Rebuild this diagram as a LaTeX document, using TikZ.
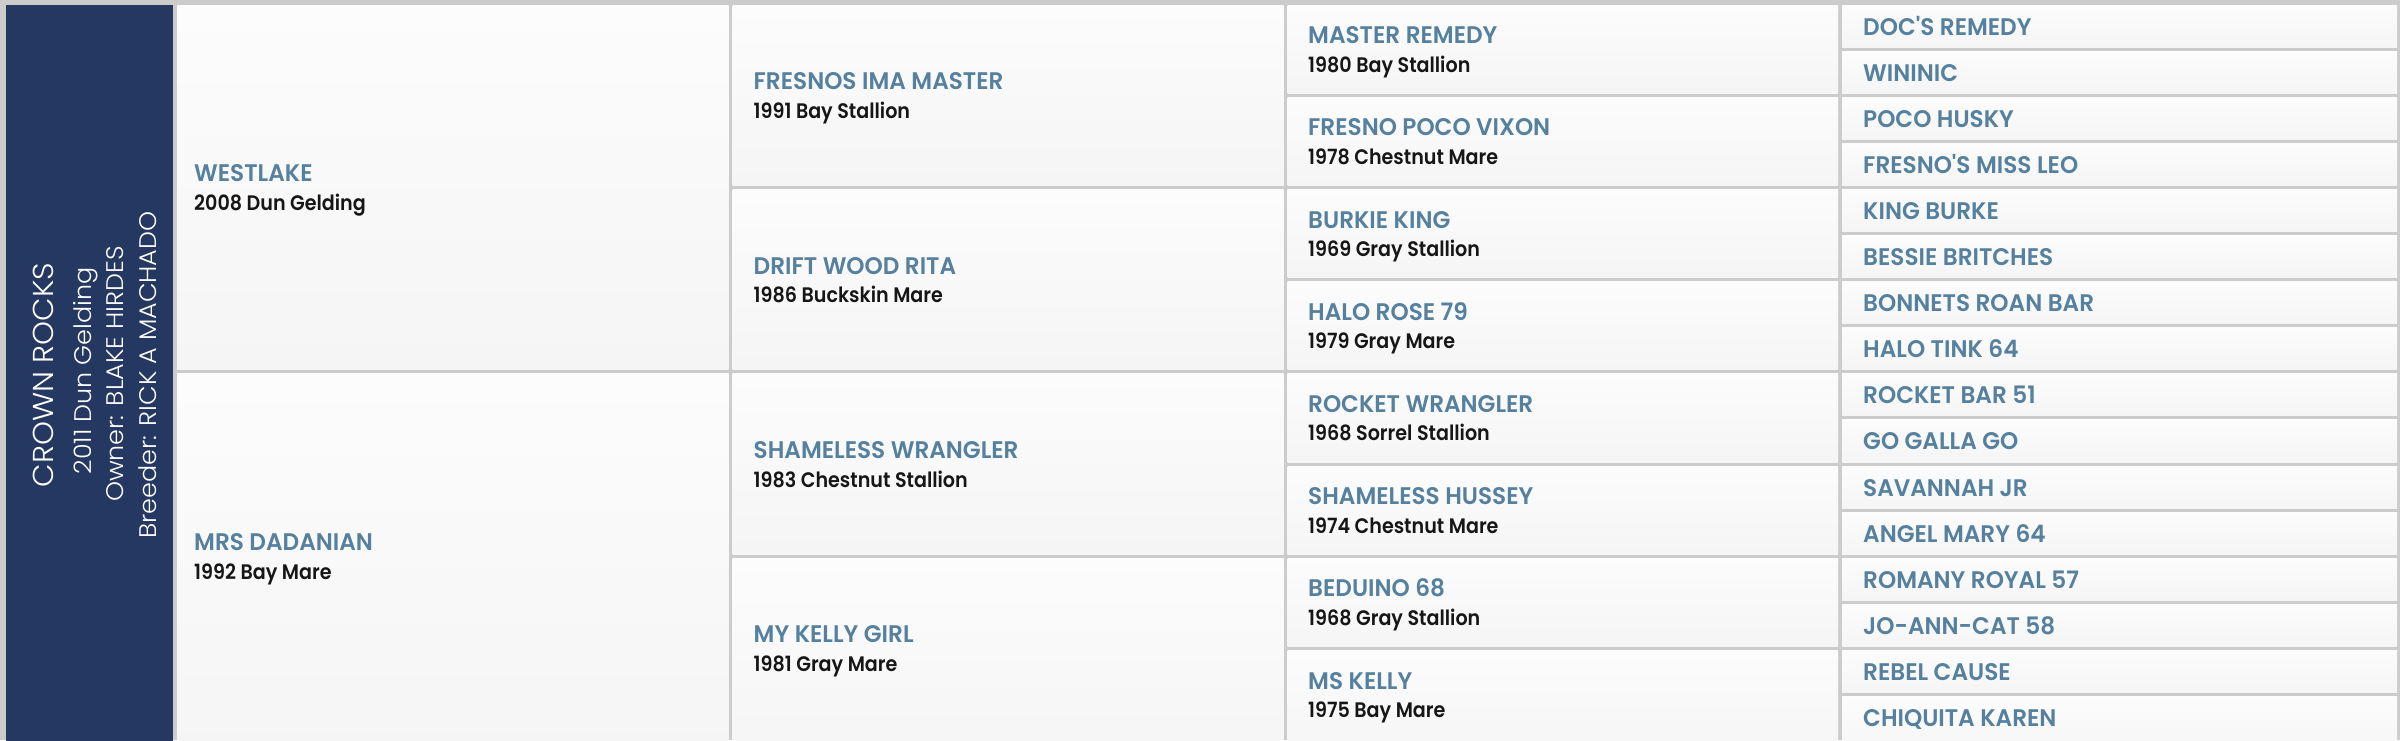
\documentclass[tikz,border=0pt]{standalone}
\usepackage{fontspec}
\newfontfamily\namefont[FakeStretch=0.965]{Poppins SemiBold}
\newfontfamily\detfont[FakeStretch=0.91]{Poppins SemiBold}
\newfontfamily\panfont[FakeStretch=1.06]{Poppins Light}
\definecolor{navy}{HTML}{243861}
\definecolor{gridgray}{HTML}{CCCCCC}
\definecolor{namecol}{HTML}{55809E}
\definecolor{detcol}{HTML}{161616}
\definecolor{cellTop}{HTML}{FCFCFC}
\definecolor{cellBot}{HTML}{F5F5F5}
\tikzset{
  nm/.style={anchor=base west, inner sep=0pt, text=namecol, font=\namefont\fontsize{24}{24}\selectfont},
  dt/.style={anchor=base west, inner sep=0pt, text=detcol, font=\detfont\fontsize{21}{21}\selectfont},
  pan/.style={anchor=base, inner sep=0pt, rotate=90, text=white},
  cellbg/.style={top color=cellTop, bottom color=cellBot}
}
\begin{document}
\begin{tikzpicture}[x=1pt,y=-1pt]
\useasboundingbox (0,0) rectangle (2400,740);
% grid colour underneath everything
\fill[gridgray] (0,0) rectangle (2400,740);
% left panel
\fill[navy] (6,5) rectangle (173,745);
% cell backgrounds (gaps form the grid lines)
\foreach \xl/\xr/\n in {175/730.5/2, 730.5/1285.5/4, 1285.5/1840/8, 1840/2399/16} {
  \pgfmathsetmacro\h{737.6/\n}
  \foreach \k in {1,...,\n} {
    \pgfmathsetmacro\ytop{3+(\k-1)*\h+2}
    \pgfmathsetmacro\ybot{ifthenelse(\k==\n,760,3+\k*\h-2)}
    \shade[cellbg] (\xl+2,\ytop) rectangle (\xr-2,\ybot);
  }
}
% panel texts
\node[pan, font=\panfont\fontsize{28.8}{28.8}\selectfont] (p1) at (53.5,375) {CROWN ROCKS};
\node[pan, font=\panfont\fontsize{24}{24}\selectfont] (p2) at (91,371) {2011 Dun Gelding};
\node[pan, font=\panfont\fontsize{24}{24}\selectfont] (p3) at (123,374) {Owner: BLAKE HIRDES};
\node[pan, font=\panfont\fontsize{24}{24}\selectfont] (p4) at (156,375) {Breeder: RICK A MACHADO};
% generation 1
\foreach \pname/\pdesc [count=\k] in {WESTLAKE/2008 Dun Gelding, MRS DADANIAN/1992 Bay Mare} {
  \pgfmathsetmacro\cy{3+(\k-0.5)*368.8}
  \node[nm] (ga\k) at (194,\cy-5.5) {\pname};
  \node[dt] (gad\k) at (194,\cy+23) {\pdesc};
}
% generation 2
\foreach \pname/\pdesc [count=\k] in {FRESNOS IMA MASTER/1991 Bay Stallion, DRIFT WOOD RITA/1986 Buckskin Mare, SHAMELESS WRANGLER/1983 Chestnut Stallion, MY KELLY GIRL/1981 Gray Mare} {
  \pgfmathsetmacro\cy{3+(\k-0.5)*184.4}
  \node[nm] (gb\k) at (753.5,\cy-5.5) {\pname};
  \node[dt] (gbd\k) at (753.5,\cy+23) {\pdesc};
}
% generation 3
\foreach \pname/\pdesc [count=\k] in {MASTER REMEDY/1980 Bay Stallion, FRESNO POCO VIXON/1978 Chestnut Mare, BURKIE KING/1969 Gray Stallion, HALO ROSE 79/1979 Gray Mare, ROCKET WRANGLER/1968 Sorrel Stallion, SHAMELESS HUSSEY/1974 Chestnut Mare, BEDUINO 68/1968 Gray Stallion, MS KELLY/1975 Bay Mare} {
  \pgfmathsetmacro\cy{3+(\k-0.5)*92.2}
  \node[nm] (gc\k) at (1308,\cy-5.5) {\pname};
  \node[dt] (gcd\k) at (1308,\cy+23) {\pdesc};
}
% generation 4
\foreach \pname [count=\k] in {DOC'S REMEDY, WININIC, POCO HUSKY, FRESNO'S MISS LEO, KING BURKE, BESSIE BRITCHES, BONNETS ROAN BAR, HALO TINK 64, ROCKET BAR 51, GO GALLA GO, SAVANNAH JR, ANGEL MARY 64, ROMANY ROYAL 57, JO-ANN-CAT 58, REBEL CAUSE, CHIQUITA KAREN} {
  \pgfmathsetmacro\cy{3+(\k-0.5)*46.1}
  \node[nm] (gd\k) at (1863,\cy+9) {\pname};
}
\end{tikzpicture}
\end{document}
